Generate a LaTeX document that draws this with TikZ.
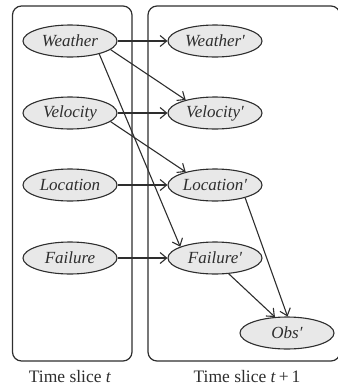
\documentclass[tikz,border=0pt]{standalone}
\usepackage{fontspec}
\setmainfont{Liberation Serif}[ItalicFont={Liberation Serif Italic}]
\usetikzlibrary{shapes.geometric,arrows.meta}
\definecolor{ln}{HTML}{2E2E2E}
\definecolor{fl}{HTML}{E8E8E8}
\begin{document}
\begin{tikzpicture}[x=1pt,y=-1pt,
  var/.style={ellipse,draw=ln,fill=fl,line width=1.1pt,minimum width=94pt,minimum height=32pt,inner sep=0pt,font=\fontsize{17}{20}\selectfont\itshape,text=ln},
  slice/.style={draw=ln,line width=1.2pt,rounded corners=9pt},
  arr/.style={draw=ln,line width=1.1pt,-{Straight Barb[length=6.5pt,width=11pt]}},
  captext/.style={font=\fontsize{17.5}{20}\selectfont,text=ln}]
\useasboundingbox (0,0) rectangle (338,389);
\draw[slice] (12.5,6) rectangle (132,361);
\draw[slice] (148,6) rectangle (340,361);
\node[var] (w) at (70,41) {Weather};
\node[var] (v) at (70,113) {Velocity};
\node[var] (l) at (70,185) {Location};
\node[var] (f) at (70,258) {Failure};
\node[var] (w2) at (215,41) {Weather′};
\node[var] (v2) at (215,113) {Velocity′};
\node[var] (l2) at (215,185) {Location′};
\node[var] (f2) at (215,258) {Failure′};
\node[var] (o2) at (287,333) {Obs′};
\node[captext] (c1) at (70,377) {Time slice \textit{t}};
\node[captext] (c2) at (247,377) {Time slice \textit{t}\,+\,1};
\draw[arr] (w.east) -- (w2.west);
\draw[arr] (v.east) -- (v2.west);
\draw[arr] (l.east) -- (l2.west);
\draw[arr] (f.east) -- (f2.west);
\draw[arr] (w.-12) -- (v2.156);
\draw[arr] (v.-12) -- (l2.156);
\draw[arr] (w.-24) -- (f2.162);
\draw[arr] (l2.-23) -- (o2.88);
\draw[arr] (f2.-49) -- (o2.127);
\end{tikzpicture}
\end{document}
